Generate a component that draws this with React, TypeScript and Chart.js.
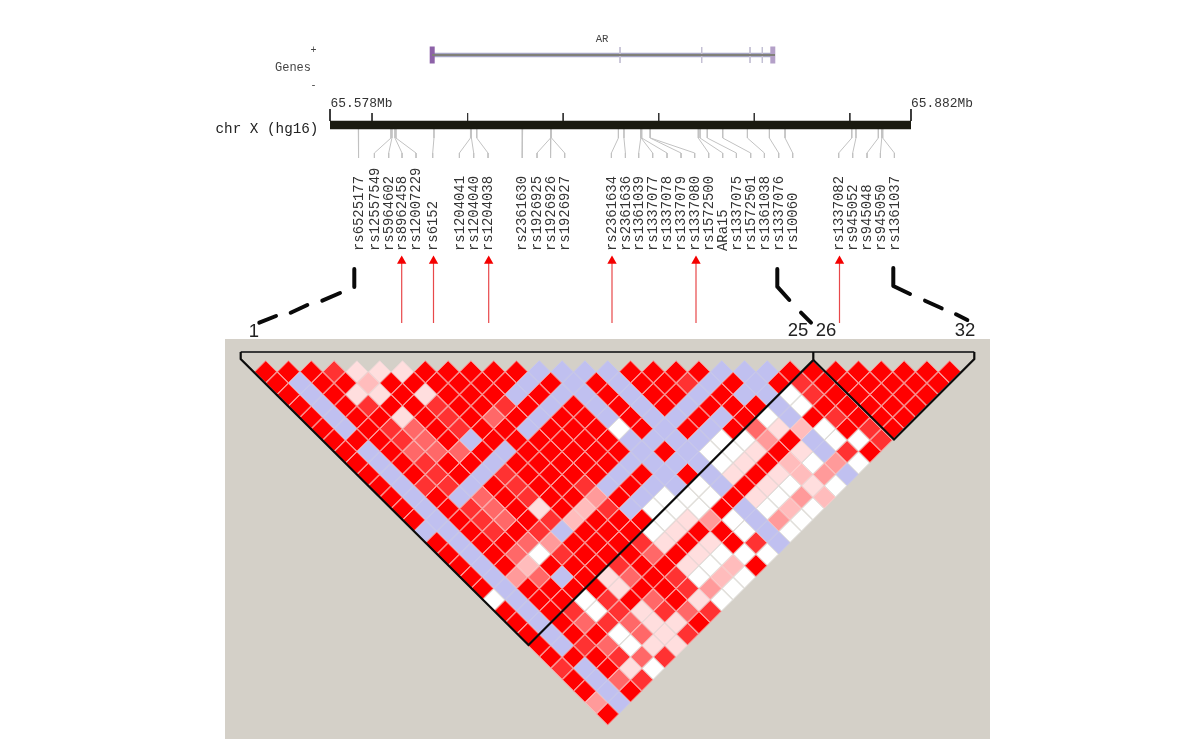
import React, { useEffect, useRef } from "react";
import { Chart, registerables } from "chart.js";

Chart.register(...registerables);

// ---- data ----
const markerNames = [
  "rs6525177", "rs12557549", "rs5964602", "rs8962458", "rs12007229", "rs6152",
  "rs1204041", "rs1204040", "rs1204038", "rs2361630", "rs1926925", "rs1926926",
  "rs1926927", "rs2361634", "rs2361636", "rs1361039", "rs1337077", "rs1337078",
  "rs1337079", "rs1337080", "rs1572500", "ARa15", "rs1337075", "rs1572501",
  "rs1361038", "rs1337076", "rs10060", "rs1337082", "rs945052", "rs945048",
  "rs945050", "rs1361037",
];
const markerPositionsMb = [
  65.5928, 65.6099, 65.6104, 65.612, 65.6125, 65.6324, 65.6515, 65.652, 65.6548,
  65.6788, 65.6934, 65.6936, 65.6939, 65.7289, 65.7318, 65.7406, 65.7408, 65.7411,
  65.7455, 65.7457, 65.7707, 65.7716, 65.7754, 65.7835, 65.7964, 65.8079, 65.8161,
  65.851, 65.8532, 65.8649, 65.8667, 65.8672,
];
const labelColumns = [
  360, 375.7, 390, 403.3, 417.3, 434, 460.7, 475, 489.3, 523.3, 538.3, 551.7, 566,
  612.7, 626.7, 640, 654, 668.3, 682.3, 696, 710, 724, 737.7, 752, 765.7, 780, 794,
  840, 854, 868.3, 881.7, 895.7,
];
const chrRangeMb = [65.578, 65.882];
const chrTicksMb = [65.6, 65.65, 65.7, 65.75, 65.8, 65.85];
const arrowColumns = [401.7, 433.5, 488.7, 612, 696, 839.5];
const exonColumns = [620, 701.7, 750, 762.3];

// LD level for each marker pair; row n holds pairs n markers apart.
// R strongest, then r s m l p, W none, B low-confidence.
const ldRows = [
  "RRRrpppRRRRRBBBBRRRRBBBRRRRRRRR",
  "RBRRlRRRRRRBRBRBRRrBRBRrRRRRRR",
  "RBRppRpRRRBRBBRBRRBRBBWrRRRRR",
  "RBRrRRrRRrRBRBRBRBRRRBWRRRRR",
  "RBRRpRrRsRBRRBRBBRBRWBRrRRR",
  "RBRrsRrRRBRRRWRBRBRsplWRrR",
  "RRRrsRBRRRRRRBBBBWWmRBWWr",
  "RBRsssRBRRRRRBRBWWpRpBrR",
  "RBRrRRBRRRRRBBBBWpRlWmW",
  "RBRrRBrRRRRBRBRBpRplmB",
  "RBrrBRrRRrBRBBWBRpWpW",
  "RBRBsRrRRmRBWWWRpWml",
  "RBRrsRpRlrBWWWRBWlW",
  "RBRrsRrlRRRWpmWBmW",
  "BBRrRrBRRRWpRRWBW",
  "RBRRsmRRRrpRpRrB",
  "RBRsWrRRRsRpWWW",
  "RBRlRRRrRRpWlR",
  "RBmsBRpsRrWlW",
  "RBRRRRpRRrmW",
  "WBRRWrRsRpW",
  "RBRrWrprsr",
  "RBRsrsppR",
  "RBRRWspr",
  "RBrsWpp",
  "RRRrsr",
  "rBRpW",
  "RBsr",
  "RBR",
  "mB",
  "R",
];

// ---- styling ----
const levelFill: Record<string, string> = {
  R: "#ff0000", r: "#ff3232", s: "#ff6868", m: "#ff9a9a", l: "#ffbcbc", p: "#ffdede",
  W: "#ffffff", B: "#c0c0f0",
};
const levelEdge: Record<string, string> = {
  R: "#ff8f8f", r: "#ff9f9f", s: "#ffadad", m: "#ffbcbc", l: "#ffcccc", p: "#eed8d8",
  W: "#e2e0dc", B: "#c6c6ee",
};
const GAP = { x: NaN, y: NaN };
const mono = '"Liberation Mono", monospace';
const sans = '"Liberation Sans", sans-serif';

const texts = [
  { t: "AR", x: 602, y: 39, f: `10.6px ${mono}`, c: "#444", a: "center" },
  { t: "+", x: 313.5, y: 50, f: `10px ${mono}`, c: "#444", a: "center" },
  { t: "Genes", x: 311, y: 67.5, f: `12px ${mono}`, c: "#444", a: "right" },
  { t: "-", x: 313.5, y: 85, f: `10px ${mono}`, c: "#444", a: "center" },
  { t: "65.578Mb", x: 330.5, y: 104, f: `12.9px ${mono}`, c: "#333", a: "left" },
  { t: "65.882Mb", x: 911, y: 104, f: `12.9px ${mono}`, c: "#333", a: "left" },
  { t: "chr X (hg16)", x: 215.5, y: 129, f: `14.3px ${mono}`, c: "#222", a: "left" },
  { t: "1", x: 254, y: 332, f: `18.5px ${sans}`, c: "#222", a: "center" },
  { t: "25", x: 798, y: 331, f: `18.5px ${sans}`, c: "#222", a: "center" },
  { t: "26", x: 826, y: 331, f: `18.5px ${sans}`, c: "#222", a: "center" },
  { t: "32", x: 965, y: 331, f: `18.5px ${sans}`, c: "#222", a: "center" },
];

const line = (data: any[], color: string, width: number, order: number, extra: any = {}) => ({
  data, borderColor: color, borderWidth: width, showLine: true, pointRadius: 0,
  spanGaps: false, tension: 0, order, xAxisID: "x", yAxisID: "y", ...extra,
});
const seg = (...pts: number[][]) => pts.map(([x, y]) => ({ x, y }));
const joinSegs = (segs: any[][]) => segs.flatMap((s) => [...s, GAP]);

export default function App() {
  const ref = useRef<HTMLCanvasElement>(null);
  useEffect(() => {
    if (!ref.current) return;

    const cells: any[] = [];
    const fills: string[] = [];
    const edges: string[] = [];
    ldRows.forEach((row, r) => {
      [...row].forEach((lv, k) => {
        const i = k + 1;
        const j = i + r + 1;
        cells.push({ x: (i + j) / 2, y: j - i });
        fills.push(levelFill[lv]);
        edges.push(levelEdge[lv]);
      });
    });

    const leaders = joinSegs(
      markerPositionsMb.map((_, n) => [
        { x: 330 + (markerPositionsMb[n] - chrRangeMb[0]) * 1911.18, y: 129 },
        { x: 330 + (markerPositionsMb[n] - chrRangeMb[0]) * 1911.18, y: 138 },
        { x: labelColumns[n] - 1.3, y: 153 },
        { x: labelColumns[n] - 1.3, y: 158 },
      ])
    );

    const overlay = {
      id: "overlay",
      beforeDatasetsDraw(c: any) {
        const { ctx, scales } = c;
        ctx.save();
        ctx.fillStyle = "#d4d0c8";
        const x0 = scales.x.getPixelForValue(225), x1 = scales.x.getPixelForValue(990);
        const y0 = scales.y.getPixelForValue(339), y1 = scales.y.getPixelForValue(739);
        ctx.fillRect(x0, y0, x1 - x0, y1 - y0);
        ctx.restore();
      },
      afterDatasetsDraw(c: any) {
        const { ctx, scales } = c;
        ctx.save();
        ctx.textBaseline = "middle";
        texts.forEach((o) => {
          ctx.font = o.f;
          ctx.fillStyle = o.c;
          ctx.textAlign = o.a;
          ctx.fillText(o.t, scales.x.getPixelForValue(o.x), scales.y.getPixelForValue(o.y));
        });
        ctx.font = `13.9px ${mono}`;
        ctx.fillStyle = "#333";
        ctx.textAlign = "left";
        markerNames.forEach((name, n) => {
          ctx.save();
          ctx.translate(scales.x.getPixelForValue(labelColumns[n] - 0.8), scales.y.getPixelForValue(251));
          ctx.rotate(-Math.PI / 2);
          ctx.fillText(name, 0, 0);
          ctx.restore();
        });
        ctx.restore();
      },
    };

    const chart = new Chart(ref.current, {
      type: "scatter",
      data: {
        datasets: [
          // LD cells
          {
            data: cells, xAxisID: "xM", yAxisID: "yD", pointStyle: "rectRot", pointRadius: 10.9,
            pointBackgroundColor: fills, pointBorderColor: edges, pointBorderWidth: 1, order: 10,
          },
          // haplotype block outline
          line(seg([240.7, 352], [974.3, 352]), "#3a3a3a", 2.2, 2),
          line(
            seg([240.7, 352], [240.7, 359], [528.5, 645], [813.3, 360], [813.3, 352]),
            "#0c0c0c", 2.2, 1
          ),
          line(seg([813.3, 360], [894, 439.5], [974.3, 359], [974.3, 352]), "#0c0c0c", 2.2, 1),
          // chromosome bar with its ticks
          line(
            chrRangeMb.map((x) => ({ x, y: 125 })), "#1a1a10", 8.4, 3,
            { xAxisID: "xMb" }
          ),
          line(
            joinSegs(chrTicksMb.map((x) => [{ x, y: 113 }, { x, y: 121 }])), "#333", 1, 3,
            { xAxisID: "xMb" }
          ),
          line(
            joinSegs(chrRangeMb.map((x) => [{ x, y: 109 }, { x, y: 121 }])), "#222", 1, 3,
            { xAxisID: "xMb" }
          ),
          // SNP leaders
          line(leaders, "#c2c2c2", 1, 4),
          // gene track
          line(seg([432, 55], [775, 55]), "#a6a6c6", 4.4, 6),
          line(seg([432, 55], [775, 55]), "#808078", 1.8, 5),
          line(joinSegs(exonColumns.map((x) => seg([x, 47], [x, 63]))), "#c4c0d4", 1, 5),
          line(seg([432.2, 46.5], [432.2, 63.5]), "#8d62a8", 5, 5),
          line(seg([772.8, 46.5], [772.8, 63.5]), "#b4a0c8", 5, 5),
          // dashed leaders between the marker list and the plot
          line(
            joinSegs([
              seg([354.3, 269], [354.3, 287]),
              seg([340, 293], [322.3, 300.7]),
              seg([307.3, 305], [290.7, 312.7]),
              seg([276, 316], [259.3, 322.7]),
              seg([777.3, 269], [777.3, 286.7], [789.3, 300]),
              seg([801, 312.7], [811, 322.7]),
              seg([893.3, 268], [893.3, 286], [910, 294]),
              seg([925, 300.7], [941.7, 308.3]),
              seg([956, 314.3], [967.3, 320]),
            ]),
            "#0a0a0a", 4, 1, { borderCapStyle: "round", borderJoinStyle: "round" }
          ),
          // red arrows
          line(joinSegs(arrowColumns.map((x) => seg([x, 323], [x, 262]))), "#e8484a", 1.2, 2),
          {
            data: arrowColumns.map((x) => ({ x, y: 261 })), xAxisID: "x", yAxisID: "y",
            pointStyle: "triangle", pointRadius: 5.4, pointBackgroundColor: "#f40000",
            pointBorderWidth: 0, order: 1,
          },
        ] as any,
      },
      options: {
        animation: false,
        responsive: false,
        devicePixelRatio: 1,
        layout: { padding: 0, autoPadding: false },
        plugins: { legend: { display: false }, tooltip: { enabled: false } },
        events: [],
        scales: {
          x: { type: "linear", display: false, min: 0, max: 1200 },
          y: { type: "linear", display: false, min: 0, max: 742, reverse: true },
          xM: { type: "linear", display: false, min: -231.5 / 22.8, max: (1200 - 231.5) / 22.8 },
          yD: {
            type: "linear", display: false, reverse: true,
            min: -360.29 / 11.41, max: (742 - 360.29) / 11.41,
          },
          xMb: {
            type: "linear", display: false,
            min: chrRangeMb[0] - 330 / 1911.18, max: chrRangeMb[1] + 289 / 1911.18,
          },
        },
      } as any,
      plugins: [overlay],
    });
    return () => chart.destroy();
  }, []);

  return (
    <div style={{ position: "fixed", left: 0, top: 0, width: 1200, height: 742, background: "#fff" }}>
      <canvas ref={ref} width={1200} height={742} style={{ display: "block", filter: "blur(0.5px)" }} />
    </div>
  );
}
